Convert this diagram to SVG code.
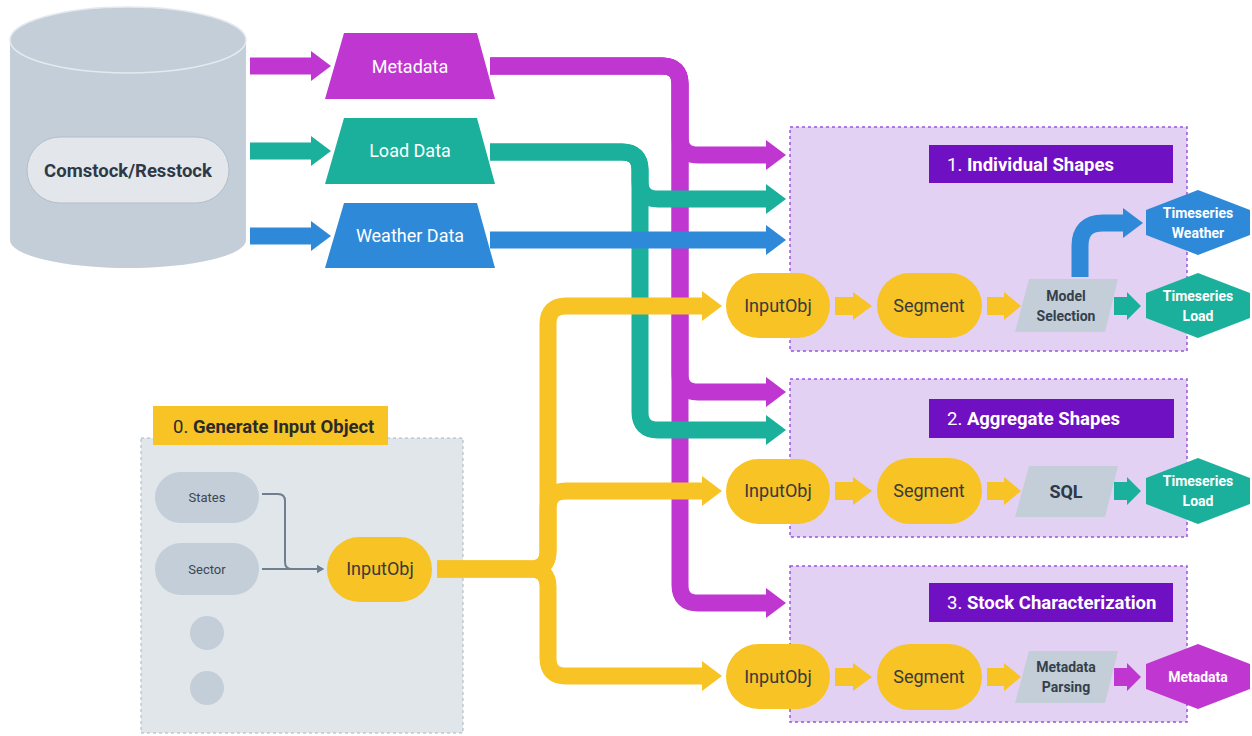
<svg xmlns="http://www.w3.org/2000/svg" width="1252" height="736" viewBox="0 0 1252 736">
<defs>
<style>
text{font-family:Roboto,"Liberation Sans",sans-serif;}
.wt{fill:#ffffff;font-size:18px;text-anchor:middle;}
.dk{fill:#3a3a3a;font-size:18px;text-anchor:middle;}
.gs{fill:#3d4652;font-size:13px;text-anchor:middle;}
.hx{fill:#ffffff;font-size:14px;font-weight:bold;text-anchor:middle;}
.pb{fill:#35404c;font-size:14px;font-weight:bold;text-anchor:middle;}
.tt{fill:#ffffff;font-size:18.5px;}
.yel{fill:#f7c325;}
.grp{fill:#c3ced8;}
.box{fill:#e3d1f3;stroke:#9b55de;stroke-width:1.5;stroke-dasharray:3 3;}
.ttl{fill:#6f10c3;}
.cm{fill:none;stroke:#bf36d0;stroke-width:17;}
.ct{fill:none;stroke:#1bb09c;stroke-width:17;}
.cb{fill:none;stroke:#2e89d9;stroke-width:17;}
.cy{fill:none;stroke:#f7c325;stroke-width:17;}
.cg{fill:none;stroke:#6e7f8f;stroke-width:2;}
</style>
<marker id="hm" markerUnits="userSpaceOnUse" markerWidth="20" markerHeight="30" viewBox="0 0 20 30" refX="0" refY="15" orient="auto"><polygon points="0,0 20,15 0,30" fill="#bf36d0"/></marker>
<marker id="ht" markerUnits="userSpaceOnUse" markerWidth="20" markerHeight="30" viewBox="0 0 20 30" refX="0" refY="15" orient="auto"><polygon points="0,0 20,15 0,30" fill="#1bb09c"/></marker>
<marker id="hb" markerUnits="userSpaceOnUse" markerWidth="20" markerHeight="30" viewBox="0 0 20 30" refX="0" refY="15" orient="auto"><polygon points="0,0 20,15 0,30" fill="#2e89d9"/></marker>
<marker id="hy" markerUnits="userSpaceOnUse" markerWidth="20" markerHeight="30" viewBox="0 0 20 30" refX="0" refY="15" orient="auto"><polygon points="0,0 20,15 0,30" fill="#f7c325"/></marker>
<marker id="hg" markerUnits="userSpaceOnUse" markerWidth="7" markerHeight="8" viewBox="0 0 7 8" refX="0" refY="4" orient="auto"><polygon points="0,0 7,4 0,8" fill="#6e7f8f"/></marker>
</defs>

<!-- containers -->
<g id="group0">
<rect x="141" y="438" width="322" height="295" fill="#e1e6eb" stroke="#a9b4bf" stroke-width="1" stroke-dasharray="3 3"/>
<rect x="153" y="406" width="235" height="39" fill="#f7c325"/>
<text x="173" y="433" style="fill:#2a2a2a;font-size:18.5px"><tspan>0. </tspan><tspan font-weight="bold">Generate Input Object</tspan></text>
</g>
<g id="group1">
<rect class="box" x="790" y="127" width="397" height="224"/>
<rect class="ttl" x="929" y="145" width="244" height="38"/>
<text class="tt" x="947" y="171"><tspan>1. </tspan><tspan font-weight="bold">Individual Shapes</tspan></text>
</g>
<g id="group2">
<rect class="box" x="790" y="379" width="397" height="158"/>
<rect class="ttl" x="929" y="399" width="245" height="39"/>
<text class="tt" x="947" y="425"><tspan>2. </tspan><tspan font-weight="bold">Aggregate Shapes</tspan></text>
</g>
<g id="group3">
<rect class="box" x="790" y="566" width="397" height="156"/>
<rect class="ttl" x="929" y="583" width="244" height="39"/>
<text class="tt" x="947" y="609"><tspan>3. </tspan><tspan font-weight="bold">Stock Characterization</tspan></text>
</g>

<!-- connectors -->
<g id="connectors">
<path class="cm" d="M250,66 H311" marker-end="url(#hm)"/>
<path class="ct" d="M250,151 H311" marker-end="url(#ht)"/>
<path class="cb" d="M250,236 H311" marker-end="url(#hb)"/>

<path class="cm" d="M490,66 H662 Q680,66 680,84 V137 Q680,155 698,155 H766" marker-end="url(#hm)"/>
<path class="cm" d="M490,66 H662 Q680,66 680,84 V374 Q680,392 698,392 H766" marker-end="url(#hm)"/>
<path class="cm" d="M490,66 H662 Q680,66 680,84 V585 Q680,603 698,603 H766" marker-end="url(#hm)"/>

<path class="ct" d="M490,152 H622 Q640,152 640,170 V181 Q640,199 658,199 H766" marker-end="url(#ht)"/>
<path class="ct" d="M490,152 H622 Q640,152 640,170 V412 Q640,430 658,430 H766" marker-end="url(#ht)"/>

<path class="cb" d="M490,240 H766" marker-end="url(#hb)"/>

<path class="cy" d="M437,569 H530 Q548,569 548,551 V324 Q548,306 566,306 H702" marker-end="url(#hy)"/>
<path class="cy" d="M437,569 H530 Q548,569 548,551 V509 Q548,491 566,491 H702" marker-end="url(#hy)"/>
<path class="cy" d="M437,569 H530 Q548,569 548,587 V658 Q548,676 566,676 H702" marker-end="url(#hy)"/>

<path class="cg" d="M262,494 H278 Q285,494 285,501 V562 Q285,569 292,569 H317" marker-end="url(#hg)"/>
<path class="cg" d="M262,569 H317" marker-end="url(#hg)"/>

<!-- in-box arrows -->
<polygon class="yel" points="835,297 853,297 853,292 872,306 853,320 853,315 835,315"/>
<polygon class="yel" points="987,297 1004,297 1004,292 1021,306 1004,320 1004,315 987,315"/>
<polygon class="yel" points="835,482 853,482 853,477 872,491 853,505 853,500 835,500"/>
<polygon class="yel" points="987,482 1004,482 1004,477 1021,491 1004,505 1004,500 987,500"/>
<polygon class="yel" points="835,668 853,668 853,663 872,677 853,691 853,686 835,686"/>
<polygon class="yel" points="987,668 1004,668 1004,663 1021,677 1004,691 1004,686 987,686"/>

<polygon fill="#1bb09c" points="1114,297 1127,297 1127,292 1141,306 1127,320 1127,315 1114,315"/>
<polygon fill="#1bb09c" points="1114,482 1127,482 1127,477 1141,491 1127,505 1127,500 1114,500"/>
<polygon fill="#bf36d0" points="1114,668 1127,668 1127,663 1141,677 1127,691 1127,686 1114,686"/>

<path class="cb" d="M1080,277 V246 Q1080,223 1103,223 H1123" marker-end="url(#hb)"/>
</g>

<!-- nodes -->
<g id="db">
<path d="M10,40 V240 A118,28 0 0 0 246,240 V40 Z" fill="#c3ced8"/>
<ellipse cx="128" cy="40" rx="118" ry="33" fill="#c3ced8" stroke="#e4e9ee" stroke-width="1.5"/>
<rect x="27" y="137" width="202" height="66" rx="33" fill="#e3e7ec" stroke="#b3bec9" stroke-width="1"/>
<text x="128" y="177" style="fill:#2f3945;font-size:18.5px;font-weight:bold;text-anchor:middle">Comstock/Resstock</text>
</g>
<g id="metadata-src">
<polygon points="344,33 477,33 495,99 325,99" fill="#bf36d0"/>
<text class="wt" x="410" y="73">Metadata</text>
</g>
<g id="load-src">
<polygon points="344,118 477,118 495,184 325,184" fill="#1bb09c"/>
<text class="wt" x="410" y="157">Load Data</text>
</g>
<g id="weather-src">
<polygon points="344,203 477,203 495,268 325,268" fill="#2e89d9"/>
<text class="wt" x="410" y="242">Weather Data</text>
</g>

<g id="states"><rect class="grp" x="155" y="472" width="104" height="51" rx="25.5"/><text class="gs" x="207" y="502">States</text></g>
<g id="sector"><rect class="grp" x="155" y="543" width="104" height="52" rx="26"/><text class="gs" x="207" y="574">Sector</text></g>
<g id="dot1"><circle class="grp" cx="207" cy="633" r="17"/></g>
<g id="dot2"><circle class="grp" cx="207" cy="688" r="17"/></g>
<g id="inputobj0"><rect class="yel" x="327" y="537" width="105" height="65" rx="32.5"/><text class="dk" x="380" y="575">InputObj</text></g>

<g id="inputobj1"><rect class="yel" x="726" y="273" width="104" height="65" rx="32.5"/><text class="dk" x="778" y="312">InputObj</text></g>
<g id="segment1"><rect class="yel" x="877" y="273" width="105" height="65" rx="32.5"/><text class="dk" x="929" y="312">Segment</text></g>
<g id="modelsel"><polygon class="grp" points="1029,279 1118,279 1105,332 1015,332"/><text class="pb" x="1066" y="301">Model</text><text class="pb" x="1066" y="321">Selection</text></g>
<g id="ts-weather"><polygon fill="#2e89d9" points="1198,190 1250,210 1250,235 1198,255 1146,235 1146,210"/><text class="hx" x="1198" y="218">Timeseries</text><text class="hx" x="1198" y="238">Weather</text></g>
<g id="ts-load1"><polygon fill="#1bb09c" points="1198,273 1250,293 1250,318 1198,338 1146,318 1146,293"/><text class="hx" x="1198" y="301">Timeseries</text><text class="hx" x="1198" y="321">Load</text></g>

<g id="inputobj2"><rect class="yel" x="726" y="459" width="104" height="65" rx="32.5"/><text class="dk" x="778" y="497">InputObj</text></g>
<g id="segment2"><rect class="yel" x="877" y="458" width="105" height="66" rx="33"/><text class="dk" x="929" y="497">Segment</text></g>
<g id="sql"><polygon class="grp" points="1029,466 1118,466 1105,517 1015,517"/><text x="1066" y="498" style="fill:#2f3945;font-size:18px;font-weight:bold;text-anchor:middle">SQL</text></g>
<g id="ts-load2"><polygon fill="#1bb09c" points="1198,458 1250,478 1250,504 1198,524 1146,504 1146,478"/><text class="hx" x="1198" y="486">Timeseries</text><text class="hx" x="1198" y="506">Load</text></g>

<g id="inputobj3"><rect class="yel" x="726" y="644" width="104" height="65" rx="32.5"/><text class="dk" x="778" y="683">InputObj</text></g>
<g id="segment3"><rect class="yel" x="877" y="644" width="105" height="66" rx="33"/><text class="dk" x="929" y="683">Segment</text></g>
<g id="metaparse"><polygon class="grp" points="1029,651 1118,651 1105,703 1015,703"/><text class="pb" x="1066" y="672">Metadata</text><text class="pb" x="1066" y="692">Parsing</text></g>
<g id="metadata-out"><polygon fill="#bf36d0" points="1198,644 1250,664 1250,689 1198,709 1146,689 1146,664"/><text class="hx" x="1198" y="682">Metadata</text></g>
</svg>
